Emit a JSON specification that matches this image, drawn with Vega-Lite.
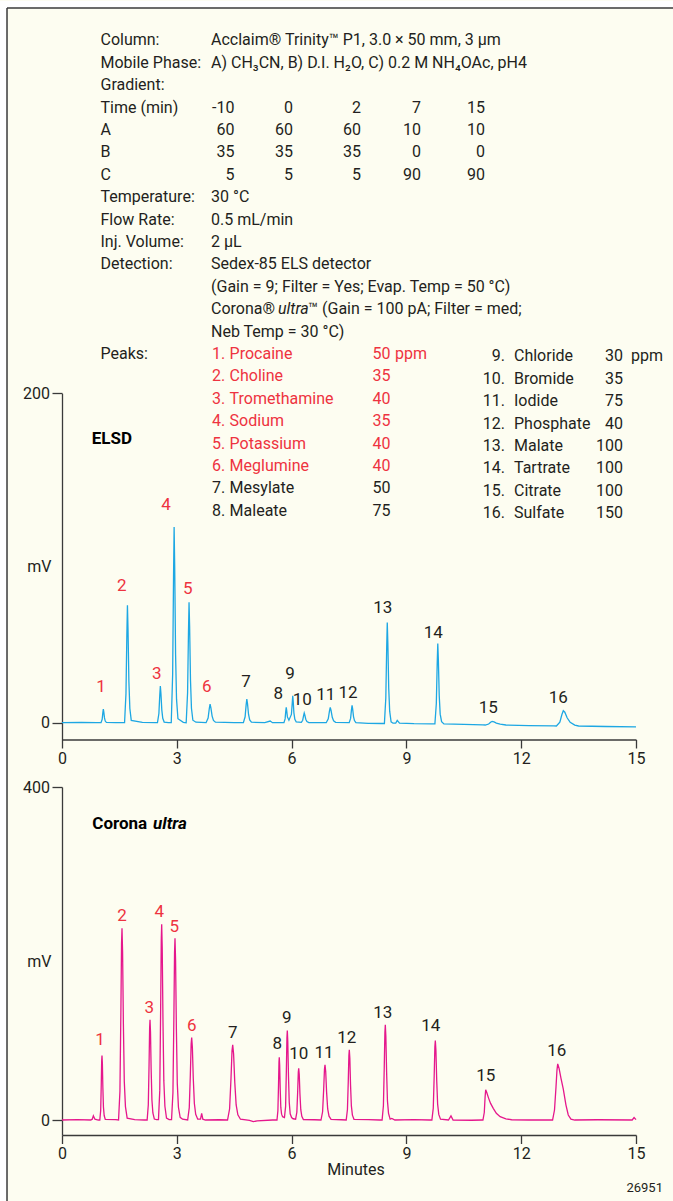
{
"$schema": "https://vega.github.io/schema/vega-lite/v6.json",
"background": "#FDFDF1",
"padding": 0,
"spacing": 47,
"bounds": "flush",
"config": {
  "view": {"stroke": null},
  "font": "Roboto",
  "axis": {"zindex": 1, "grid": false, "domainColor": "#3A3A3A", "tickColor": "#3A3A3A", "domainWidth": 1.3, "tickWidth": 1.3, "labelColor": "#231F20", "titleColor": "#231F20", "labelFontSize": 16, "titleFontSize": 16, "titleFontWeight": "normal"}
},
"datasets": {
  "conditions": [
    {"line": 1, "label": "Column:", "value": "Acclaim® Trinity™ P1, 3.0 × 50 mm, 3 µm"},
    {"line": 2, "label": "Mobile Phase:", "value": "A) CH₃CN, B) D.I. H₂O, C) 0.2 M NH₄OAc, pH4"},
    {"line": 3, "label": "Gradient:"},
    {"line": 4, "label": "Time (min)", "c1": -10, "c2": 0, "c3": 2, "c4": 7, "c5": 15},
    {"line": 5, "label": "\u00a0A", "c1": 60, "c2": 60, "c3": 60, "c4": 10, "c5": 10},
    {"line": 6, "label": "\u00a0B", "c1": 35, "c2": 35, "c3": 35, "c4": 0, "c5": 0},
    {"line": 7, "label": "\u00a0C", "c1": 5, "c2": 5, "c3": 5, "c4": 90, "c5": 90},
    {"line": 8, "label": "Temperature:", "value": "30 °C"},
    {"line": 9, "label": "Flow Rate:", "value": "0.5 mL/min"},
    {"line": 10, "label": "Inj. Volume:", "value": "2 µL"},
    {"line": 11, "label": "Detection:", "value": "Sedex-85 ELS detector"},
    {"line": 12, "value": "(Gain = 9; Filter = Yes; Evap. Temp = 50 °C)"},
    {"line": 13, "value": "Corona®", "italic": "ultra", "rest": "™ (Gain = 100 pA; Filter = med;"},
    {"line": 14, "value": "Neb Temp = 30 °C)"},
    {"line": 15, "label": "Peaks:"}
  ],
  "peaklist": [
    {"peak": 1, "no": "1.", "compound": "Procaine", "ppm": 50, "ion": "cation"},
    {"peak": 2, "no": "2.", "compound": "Choline", "ppm": 35, "ion": "cation"},
    {"peak": 3, "no": "3.", "compound": "Tromethamine", "ppm": 40, "ion": "cation"},
    {"peak": 4, "no": "4.", "compound": "Sodium", "ppm": 35, "ion": "cation"},
    {"peak": 5, "no": "5.", "compound": "Potassium", "ppm": 40, "ion": "cation"},
    {"peak": 6, "no": "6.", "compound": "Meglumine", "ppm": 40, "ion": "cation"},
    {"peak": 7, "no": "7.", "compound": "Mesylate", "ppm": 50, "ion": "anion"},
    {"peak": 8, "no": "8.", "compound": "Maleate", "ppm": 75, "ion": "anion"},
    {"peak": 9, "no": "9.", "compound": "Chloride", "ppm": 30, "ion": "anion"},
    {"peak": 10, "no": "10.", "compound": "Bromide", "ppm": 35, "ion": "anion"},
    {"peak": 11, "no": "11.", "compound": "Iodide", "ppm": 75, "ion": "anion"},
    {"peak": 12, "no": "12.", "compound": "Phosphate", "ppm": 40, "ion": "anion"},
    {"peak": 13, "no": "13.", "compound": "Malate", "ppm": 100, "ion": "anion"},
    {"peak": 14, "no": "14.", "compound": "Tartrate", "ppm": 100, "ion": "anion"},
    {"peak": 15, "no": "15.", "compound": "Citrate", "ppm": 100, "ion": "anion"},
    {"peak": 16, "no": "16.", "compound": "Sulfate", "ppm": 150, "ion": "anion"}
  ],
  "detectors": [
    {"detector": "ELSD", "label": "ELSD"},
    {"detector": "Corona ultra", "label": "Corona", "label_italic": "ultra"}
  ],
  "figure": [{"id": "26951"}],
  "peak_labels": [
    {"detector": "ELSD", "peak": 1, "ion": "cation", "t": 1.019, "mV": 21.9},
    {"detector": "ELSD", "peak": 2, "ion": "cation", "t": 1.560, "mV": 83.0},
    {"detector": "ELSD", "peak": 3, "ion": "cation", "t": 2.475, "mV": 29.8},
    {"detector": "ELSD", "peak": 4, "ion": "cation", "t": 2.718, "mV": 132.2},
    {"detector": "ELSD", "peak": 5, "ion": "cation", "t": 3.285, "mV": 81.4},
    {"detector": "ELSD", "peak": 6, "ion": "cation", "t": 3.781, "mV": 21.7},
    {"detector": "ELSD", "peak": 7, "ion": "anion", "t": 4.808, "mV": 24.7},
    {"detector": "ELSD", "peak": 8, "ion": "anion", "t": 5.652, "mV": 17.2},
    {"detector": "ELSD", "peak": 9, "ion": "anion", "t": 5.958, "mV": 29.8},
    {"detector": "ELSD", "peak": 10, "ion": "anion", "t": 6.280, "mV": 13.6},
    {"detector": "ELSD", "peak": 11, "ion": "anion", "t": 6.891, "mV": 16.8},
    {"detector": "ELSD", "peak": 12, "ion": "anion", "t": 7.474, "mV": 18.2},
    {"detector": "ELSD", "peak": 13, "ion": "anion", "t": 8.381, "mV": 69.8},
    {"detector": "ELSD", "peak": 14, "ion": "anion", "t": 9.703, "mV": 54.6},
    {"detector": "ELSD", "peak": 15, "ion": "anion", "t": 11.140, "mV": 8.7},
    {"detector": "ELSD", "peak": 16, "ion": "anion", "t": 12.970, "mV": 14.8},
    {"detector": "Corona ultra", "peak": 1, "ion": "cation", "t": 0.993, "mV": 96.3},
    {"detector": "Corona ultra", "peak": 2, "ion": "cation", "t": 1.568, "mV": 245.6},
    {"detector": "Corona ultra", "peak": 3, "ion": "cation", "t": 2.281, "mV": 134.3},
    {"detector": "Corona ultra", "peak": 4, "ion": "cation", "t": 2.543, "mV": 249.6},
    {"detector": "Corona ultra", "peak": 5, "ion": "cation", "t": 2.935, "mV": 231.6},
    {"detector": "Corona ultra", "peak": 6, "ion": "cation", "t": 3.389, "mV": 113.5},
    {"detector": "Corona ultra", "peak": 7, "ion": "anion", "t": 4.461, "mV": 104.3},
    {"detector": "Corona ultra", "peak": 8, "ion": "anion", "t": 5.626, "mV": 91.1},
    {"detector": "Corona ultra", "peak": 9, "ion": "anion", "t": 5.872, "mV": 122.3},
    {"detector": "Corona ultra", "peak": 10, "ion": "anion", "t": 6.186, "mV": 79.0},
    {"detector": "Corona ultra", "peak": 11, "ion": "anion", "t": 6.847, "mV": 80.2},
    {"detector": "Corona ultra", "peak": 12, "ion": "anion", "t": 7.440, "mV": 98.3},
    {"detector": "Corona ultra", "peak": 13, "ion": "anion", "t": 8.381, "mV": 128.3},
    {"detector": "Corona ultra", "peak": 14, "ion": "anion", "t": 9.635, "mV": 113.5},
    {"detector": "Corona ultra", "peak": 15, "ion": "anion", "t": 11.072, "mV": 52.3},
    {"detector": "Corona ultra", "peak": 16, "ion": "anion", "t": 12.927, "mV": 82.3}
  ],
  "elsd": [
    {"t":0,"mV":0},{"t":0.5,"mV":0.2},{"t":0.9,"mV":0},
    {"t":1.02,"mV":0},{"t":1.05,"mV":2.1},{"t":1.068,"mV":6.2},{"t":1.08,"mV":8.3},{"t":1.092,"mV":6.6},{"t":1.11,"mV":2.9},{"t":1.13,"mV":1.0},{"t":1.16,"mV":0.2},
    {"t":1.4,"mV":0.1},
    {"t":1.635,"mV":0},{"t":1.672,"mV":17.8},{"t":1.695,"mV":53.5},{"t":1.71,"mV":71.3},{"t":1.725,"mV":57},{"t":1.748,"mV":25},{"t":1.773,"mV":8.6},{"t":1.81,"mV":1.4},
    {"t":2.1,"mV":0.2},{"t":2.45,"mV":0},
    {"t":2.495,"mV":0},{"t":2.532,"mV":5.6},{"t":2.555,"mV":16.7},{"t":2.57,"mV":22.2},{"t":2.585,"mV":17.8},{"t":2.608,"mV":7.8},{"t":2.633,"mV":2.7},{"t":2.67,"mV":0.4},
    {"t":2.78,"mV":0},
    {"t":2.855,"mV":0},{"t":2.892,"mV":29.7},{"t":2.915,"mV":89},{"t":2.93,"mV":118.8},{"t":2.945,"mV":95},{"t":2.968,"mV":41.6},{"t":2.993,"mV":14.3},{"t":3.03,"mV":2.4},
    {"t":3.17,"mV":0.2},
    {"t":3.245,"mV":0},{"t":3.282,"mV":18.3},{"t":3.305,"mV":54.8},{"t":3.32,"mV":73.1},{"t":3.335,"mV":58.5},{"t":3.358,"mV":25.6},{"t":3.383,"mV":8.8},{"t":3.42,"mV":1.5},{"t":3.5,"mV":0.3},
    {"t":3.765,"mV":0},{"t":3.818,"mV":2.8},{"t":3.849,"mV":8.5},{"t":3.87,"mV":11.3},{"t":3.891,"mV":9},{"t":3.923,"mV":4},{"t":3.958,"mV":1.4},{"t":4.01,"mV":0.3},
    {"t":4.5,"mV":0},
    {"t":4.74,"mV":0},{"t":4.785,"mV":3.6},{"t":4.812,"mV":10.8},{"t":4.83,"mV":14.4},{"t":4.848,"mV":11.5},{"t":4.875,"mV":5},{"t":4.905,"mV":1.7},{"t":4.95,"mV":0.3},
    {"t":5.3,"mV":0},{"t":5.44,"mV":1.0},{"t":5.5,"mV":0},
    {"t":5.8,"mV":0},{"t":5.83,"mV":2.3},{"t":5.848,"mV":7},{"t":5.86,"mV":9.3},{"t":5.872,"mV":7.4},{"t":5.89,"mV":3.5},{"t":5.93,"mV":1.5},
    {"t":5.995,"mV":5},{"t":6.018,"mV":12.3},{"t":6.03,"mV":16.4},{"t":6.042,"mV":13},{"t":6.06,"mV":6},{"t":6.085,"mV":2},{"t":6.12,"mV":0.5},
    {"t":6.255,"mV":0.2},{"t":6.29,"mV":1.5},{"t":6.315,"mV":4.4},{"t":6.33,"mV":5.9},{"t":6.345,"mV":4.7},{"t":6.37,"mV":2.1},{"t":6.4,"mV":0.7},{"t":6.45,"mV":0.1},
    {"t":6.8,"mV":0},
    {"t":6.905,"mV":0},{"t":6.958,"mV":2.3},{"t":6.989,"mV":7},{"t":7.01,"mV":9.3},{"t":7.031,"mV":7.4},{"t":7.063,"mV":3.3},{"t":7.098,"mV":1.1},{"t":7.15,"mV":0.2},
    {"t":7.505,"mV":0},{"t":7.542,"mV":2.6},{"t":7.565,"mV":7.9},{"t":7.58,"mV":10.5},{"t":7.595,"mV":8.4},{"t":7.618,"mV":3.7},{"t":7.643,"mV":1.3},{"t":7.68,"mV":0},
    {"t":8.0,"mV":-0.4},{"t":8.35,"mV":-0.5},
    {"t":8.425,"mV":-0.5},{"t":8.462,"mV":15},{"t":8.485,"mV":45.5},{"t":8.5,"mV":60.8},{"t":8.515,"mV":48.6},{"t":8.538,"mV":21},{"t":8.563,"mV":7},{"t":8.6,"mV":0.5},{"t":8.65,"mV":-0.3},
    {"t":8.72,"mV":-0.3},{"t":8.76,"mV":1.4},{"t":8.82,"mV":-0.3},
    {"t":9.2,"mV":-0.6},{"t":9.65,"mV":-0.7},
    {"t":9.745,"mV":-0.7},{"t":9.782,"mV":11.6},{"t":9.805,"mV":35.9},{"t":9.82,"mV":48.1},{"t":9.835,"mV":38.4},{"t":9.858,"mV":16.4},{"t":9.883,"mV":5.2},{"t":9.92,"mV":0.6},{"t":9.98,"mV":-0.7},
    {"t":10.5,"mV":-1.0},{"t":11.0,"mV":-1.3},
    {"t":11.06,"mV":-1.4},{"t":11.15,"mV":-0.8},{"t":11.2,"mV":0.3},{"t":11.24,"mV":0.8},{"t":11.29,"mV":0.5},{"t":11.35,"mV":-0.2},{"t":11.45,"mV":-0.9},{"t":11.6,"mV":-1.4},
    {"t":12.2,"mV":-1.8},{"t":12.85,"mV":-1.9},
    {"t":12.92,"mV":-2.0},{"t":13.01,"mV":0.3},{"t":13.064,"mV":5.0},{"t":13.1,"mV":7.3},{"t":13.14,"mV":6.4},{"t":13.2,"mV":3.0},{"t":13.28,"mV":0.2},{"t":13.4,"mV":-1.5},{"t":13.5,"mV":-2},
    {"t":14.2,"mV":-2.3},{"t":15,"mV":-2.5}
  ],
  "corona": [
    {"t":0,"mV":0},{"t":0.4,"mV":0.5},{"t":0.75,"mV":0},{"t":0.79,"mV":1},{"t":0.82,"mV":5},{"t":0.86,"mV":1},{"t":0.95,"mV":0},
    {"t":0.988,"mV":0},{"t":1.011,"mV":11.6},{"t":1.026,"mV":42.6},{"t":1.037,"mV":71.3},{"t":1.045,"mV":77.5},{"t":1.055,"mV":68.2},{"t":1.068,"mV":38.8},{"t":1.083,"mV":15.5},{"t":1.102,"mV":5.4},{"t":1.131,"mV":0.8},
    {"t":1.4,"mV":0.5},
    {"t":1.478,"mV":0},{"t":1.514,"mV":34.6},{"t":1.538,"mV":126.7},{"t":1.556,"mV":212},{"t":1.568,"mV":230.4},{"t":1.583,"mV":202.8},{"t":1.604,"mV":115.2},{"t":1.628,"mV":46.1},{"t":1.658,"mV":16.1},{"t":1.703,"mV":2.3},
    {"t":1.9,"mV":0.5},{"t":2.15,"mV":0},
    {"t":2.225,"mV":0},{"t":2.255,"mV":18.1},{"t":2.275,"mV":66.2},{"t":2.29,"mV":110.8},{"t":2.3,"mV":120.4},{"t":2.3125,"mV":106},{"t":2.33,"mV":60.2},{"t":2.35,"mV":24.1},{"t":2.375,"mV":8.4},{"t":2.4125,"mV":1.2},
    {"t":2.47,"mV":0.5},
    {"t":2.521,"mV":0.5},{"t":2.555,"mV":35.3},{"t":2.577,"mV":129.4},{"t":2.594,"mV":216.4},{"t":2.605,"mV":235.2},{"t":2.619,"mV":207},{"t":2.639,"mV":117.6},{"t":2.661,"mV":47},{"t":2.689,"mV":16.5},{"t":2.731,"mV":2.4},
    {"t":2.8,"mV":0.5},
    {"t":2.863,"mV":0.5},{"t":2.899,"mV":32.8},{"t":2.923,"mV":120.1},{"t":2.941,"mV":201},{"t":2.953,"mV":218.4},{"t":2.968,"mV":192.2},{"t":2.989,"mV":109.2},{"t":3.013,"mV":43.7},{"t":3.043,"mV":15.3},{"t":3.088,"mV":3.2},{"t":3.15,"mV":1},
    {"t":3.284,"mV":0},{"t":3.326,"mV":14.9},{"t":3.354,"mV":54.5},{"t":3.375,"mV":91.2},{"t":3.389,"mV":99.1},{"t":3.407,"mV":87.2},{"t":3.431,"mV":49.6},{"t":3.459,"mV":19.8},{"t":3.494,"mV":6.9},{"t":3.547,"mV":1},
    {"t":3.62,"mV":1},{"t":3.65,"mV":8},{"t":3.68,"mV":1},{"t":3.75,"mV":0},
    {"t":4.1,"mV":0.3},
    {"t":4.326,"mV":0},{"t":4.38,"mV":13.5},{"t":4.416,"mV":49.7},{"t":4.443,"mV":83.1},{"t":4.461,"mV":90.3},{"t":4.484,"mV":79.5},{"t":4.515,"mV":45.2},{"t":4.551,"mV":18.1},{"t":4.596,"mV":6.3},{"t":4.664,"mV":0.9},
    {"t":4.9,"mV":-0.5},{"t":5.0,"mV":-2},{"t":5.1,"mV":-1},{"t":5.5,"mV":0},
    {"t":5.618,"mV":0},{"t":5.642,"mV":11.3},{"t":5.658,"mV":41.5},{"t":5.67,"mV":69.4},{"t":5.678,"mV":75.4},{"t":5.688,"mV":66.4},{"t":5.702,"mV":37.7},{"t":5.718,"mV":15.1},{"t":5.738,"mV":7},{"t":5.765,"mV":4},
    {"t":5.813,"mV":3},{"t":5.843,"mV":16.1},{"t":5.863,"mV":59.1},{"t":5.878,"mV":98.9},{"t":5.888,"mV":107.5},{"t":5.9,"mV":94.6},{"t":5.918,"mV":53.8},{"t":5.938,"mV":21.5},{"t":5.963,"mV":7.5},{"t":6.0,"mV":3},{"t":6.04,"mV":1.5},
    {"t":6.105,"mV":1},{"t":6.137,"mV":9.3},{"t":6.159,"mV":34.2},{"t":6.175,"mV":57.2},{"t":6.186,"mV":62.2},{"t":6.2,"mV":54.7},{"t":6.218,"mV":31.1},{"t":6.24,"mV":12.4},{"t":6.267,"mV":4.4},{"t":6.308,"mV":0.6},
    {"t":6.6,"mV":0.3},
    {"t":6.768,"mV":0},{"t":6.81,"mV":9.9},{"t":6.838,"mV":36.5},{"t":6.859,"mV":61},{"t":6.873,"mV":66.3},{"t":6.891,"mV":58.3},{"t":6.915,"mV":33.2},{"t":6.943,"mV":13.3},{"t":6.978,"mV":4.6},{"t":7.031,"mV":0.7},
    {"t":7.3,"mV":0.3},
    {"t":7.427,"mV":0},{"t":7.459,"mV":12.6},{"t":7.481,"mV":46.4},{"t":7.497,"mV":77.6},{"t":7.508,"mV":84.3},{"t":7.522,"mV":74.2},{"t":7.54,"mV":42.2},{"t":7.562,"mV":16.9},{"t":7.589,"mV":5.9},{"t":7.63,"mV":0.8},
    {"t":8.0,"mV":0.5},{"t":8.3,"mV":0},
    {"t":8.365,"mV":0},{"t":8.399,"mV":17.2},{"t":8.421,"mV":62.9},{"t":8.438,"mV":105.2},{"t":8.449,"mV":114.4},{"t":8.463,"mV":100.7},{"t":8.483,"mV":57.2},{"t":8.505,"mV":22.9},{"t":8.533,"mV":8},{"t":8.575,"mV":1.1},{"t":8.62,"mV":2},{"t":8.7,"mV":0},
    {"t":9.2,"mV":0.5},{"t":9.6,"mV":0},
    {"t":9.666,"mV":0},{"t":9.702,"mV":14.3},{"t":9.726,"mV":52.5},{"t":9.744,"mV":87.9},{"t":9.756,"mV":95.5},{"t":9.771,"mV":84},{"t":9.792,"mV":47.8},{"t":9.816,"mV":19.1},{"t":9.846,"mV":6.7},{"t":9.891,"mV":1},
    {"t":10.1,"mV":0},{"t":10.165,"mV":5},{"t":10.22,"mV":0},
    {"t":10.7,"mV":-0.3},{"t":10.98,"mV":0},
    {"t":11.0,"mV":0},{"t":11.035,"mV":9},{"t":11.057,"mV":28},{"t":11.072,"mV":36.3},{"t":11.1,"mV":33},{"t":11.15,"mV":26},{"t":11.2,"mV":20},{"t":11.27,"mV":14},{"t":11.35,"mV":8},{"t":11.45,"mV":4},{"t":11.6,"mV":1.5},{"t":11.75,"mV":0.3},
    {"t":12.2,"mV":0},{"t":12.8,"mV":0},
    {"t":12.82,"mV":0},{"t":12.87,"mV":12},{"t":12.91,"mV":40},{"t":12.935,"mV":60},{"t":12.954,"mV":67.5},{"t":12.99,"mV":62},{"t":13.04,"mV":50},{"t":13.1,"mV":37},{"t":13.17,"mV":18},{"t":13.23,"mV":6},{"t":13.3,"mV":1},{"t":13.4,"mV":0},
    {"t":14.0,"mV":0.3},{"t":14.9,"mV":0},{"t":14.95,"mV":3},{"t":15,"mV":0.5}
  ]
},
"vconcat": [
  {
    "width": 574,
    "height": 731.5,
    "resolve": {"scale": {"x": "independent", "y": "independent"}, "axis": {"x": "independent", "y": "independent"}},
    "layer": [
      {
        "layer": [
          {
            "data": {"name": "elsd"},
            "mark": {"type": "line", "color": "#1DA7E3", "strokeWidth": 1.3},
            "encoding": {
              "x": {"field": "t", "type": "quantitative", "scale": {"domain": [0, 15], "nice": false, "zero": false}, "axis": {"orient": "bottom", "values": [0, 3, 6, 9, 12, 15], "title": null, "tickSize": 8.5, "labelPadding": 2, "labelFlush": false}},
              "y": {"field": "mV", "type": "quantitative", "scale": {"domain": [-10.2, 200], "range": [731.5, 385.3], "nice": false, "zero": false}, "axis": {"orient": "left", "values": [0, 200], "title": "mV", "titleAngle": 0, "titleAlign": "right", "titleBaseline": "middle", "titleX": -11, "tickSize": 10, "labelPadding": 2.5}}
            }
          },
          {
            "data": {"name": "peak_labels"},
            "transform": [{"filter": "datum.detector == 'ELSD'"}],
            "mark": {"type": "text", "align": "center", "baseline": "middle", "fontSize": 17},
            "encoding": {
              "x": {"field": "t", "type": "quantitative", "scale": {"domain": [0, 15], "nice": false, "zero": false}},
              "y": {"field": "mV", "type": "quantitative", "scale": {"domain": [-10.2, 200], "range": [731.5, 385.3], "nice": false, "zero": false}},
              "text": {"field": "peak", "type": "nominal"},
              "color": {"field": "ion", "type": "nominal", "scale": {"domain": ["cation", "anion"], "range": ["#EE3340", "#231F20"]}, "legend": null}
            }
          },
          {
            "data": {"name": "detectors"},
            "transform": [{"filter": "datum.detector == 'ELSD'"}],
            "mark": {"type": "text", "align": "left", "baseline": "middle", "fontSize": 17, "fontWeight": "bold", "color": "#000000"},
            "encoding": {
              "x": {"datum": 0.776, "type": "quantitative", "scale": {"domain": [0, 15], "nice": false, "zero": false}},
              "y": {"datum": 172.1, "type": "quantitative", "scale": {"domain": [-10.2, 200], "range": [731.5, 385.3], "nice": false, "zero": false}},
              "text": {"field": "label", "type": "nominal"}
            }
          }
        ]
      },
      {
        "data": {"name": "conditions"},
        "layer": [
          {
            "data": {"values": [{"strip": "left"}]},
            "mark": {"type": "rect", "color": "#FFFFFF"},
            "encoding": {
              "x": {"datum": -1.62, "type": "quantitative", "scale": {"domain": [0, 15], "nice": false, "zero": false}, "axis": null},
              "x2": {"datum": -1.437},
              "y": {"datum": -0.7545, "type": "quantitative", "scale": {"domain": [1, 15], "range": [32.3, 345.9], "nice": false, "zero": false}, "axis": null},
              "y2": {"datum": 52.85}
            }
          },
          {
            "data": {"values": [{"strip": "top"}]},
            "mark": {"type": "rect", "color": "#FFFFFF"},
            "encoding": {
              "x": {"datum": -1.62, "type": "quantitative", "scale": {"domain": [0, 15], "nice": false, "zero": false}, "axis": null},
              "x2": {"datum": 15.967},
              "y": {"datum": -0.7545, "type": "quantitative", "scale": {"domain": [1, 15], "range": [32.3, 345.9], "nice": false, "zero": false}, "axis": null},
              "y2": {"datum": -0.442}
            }
          },
          {
            "data": {"values": [{"frame": "top"}]},
            "mark": {"type": "rule", "color": "#3A3A3A", "strokeWidth": 1.5},
            "encoding": {
              "x": {"datum": -1.437, "type": "quantitative", "scale": {"domain": [0, 15], "nice": false, "zero": false}, "axis": null},
              "x2": {"datum": 15.967},
              "y": {"datum": -0.442, "type": "quantitative", "scale": {"domain": [1, 15], "range": [32.3, 345.9], "nice": false, "zero": false}, "axis": null}
            }
          },
          {
            "data": {"values": [{"frame": "left"}]},
            "mark": {"type": "rule", "color": "#3A3A3A", "strokeWidth": 1.5},
            "encoding": {
              "x": {"datum": -1.437, "type": "quantitative", "scale": {"domain": [0, 15], "nice": false, "zero": false}, "axis": null},
              "y": {"datum": -0.442, "type": "quantitative", "scale": {"domain": [1, 15], "range": [32.3, 345.9], "nice": false, "zero": false}, "axis": null},
              "y2": {"datum": 52.85}
            }
          },
          {
            "transform": [{"filter": "isValid(datum.label)"}],
            "mark": {"type": "text", "align": "left", "baseline": "middle", "fontSize": 16, "color": "#231F20"},
            "encoding": {
              "x": {"datum": 1.006, "type": "quantitative", "scale": {"domain": [0, 15], "nice": false, "zero": false}, "axis": null},
              "y": {"field": "line", "type": "quantitative", "scale": {"domain": [1, 15], "range": [32.3, 345.9], "nice": false, "zero": false}, "axis": null},
              "text": {"field": "label", "type": "nominal"}
            }
          },
          {
            "transform": [{"filter": "isValid(datum.value)"}],
            "mark": {"type": "text", "align": "left", "baseline": "middle", "fontSize": 16, "color": "#231F20"},
            "encoding": {
              "x": {"datum": 3.894, "type": "quantitative", "scale": {"domain": [0, 15], "nice": false, "zero": false}, "axis": null},
              "y": {"field": "line", "type": "quantitative", "scale": {"domain": [1, 15], "range": [32.3, 345.9], "nice": false, "zero": false}, "axis": null},
              "text": {"field": "value", "type": "nominal"}
            }
          },
          {
            "transform": [{"filter": "isValid(datum.italic)"}],
            "mark": {"type": "text", "align": "left", "baseline": "middle", "fontSize": 16, "fontStyle": "italic", "color": "#231F20"},
            "encoding": {
              "x": {"datum": 5.644, "type": "quantitative", "scale": {"domain": [0, 15], "nice": false, "zero": false}, "axis": null},
              "y": {"field": "line", "type": "quantitative", "scale": {"domain": [1, 15], "range": [32.3, 345.9], "nice": false, "zero": false}, "axis": null},
              "text": {"field": "italic", "type": "nominal"}
            }
          },
          {
            "transform": [{"filter": "isValid(datum.rest)"}],
            "mark": {"type": "text", "align": "left", "baseline": "middle", "fontSize": 16, "color": "#231F20"},
            "encoding": {
              "x": {"datum": 6.43, "type": "quantitative", "scale": {"domain": [0, 15], "nice": false, "zero": false}, "axis": null},
              "y": {"field": "line", "type": "quantitative", "scale": {"domain": [1, 15], "range": [32.3, 345.9], "nice": false, "zero": false}, "axis": null},
              "text": {"field": "rest", "type": "nominal"}
            }
          },
          {
            "transform": [{"filter": "isValid(datum.c1)"}],
            "mark": {"type": "text", "align": "right", "baseline": "middle", "fontSize": 16, "color": "#231F20"},
            "encoding": {
              "x": {"datum": 4.508, "type": "quantitative", "scale": {"domain": [0, 15], "nice": false, "zero": false}, "axis": null},
              "y": {"field": "line", "type": "quantitative", "scale": {"domain": [1, 15], "range": [32.3, 345.9], "nice": false, "zero": false}, "axis": null},
              "text": {"field": "c1", "type": "nominal"}
            }
          },
          {
            "transform": [{"filter": "isValid(datum.c2)"}],
            "mark": {"type": "text", "align": "right", "baseline": "middle", "fontSize": 16, "color": "#231F20"},
            "encoding": {
              "x": {"datum": 6.037, "type": "quantitative", "scale": {"domain": [0, 15], "nice": false, "zero": false}, "axis": null},
              "y": {"field": "line", "type": "quantitative", "scale": {"domain": [1, 15], "range": [32.3, 345.9], "nice": false, "zero": false}, "axis": null},
              "text": {"field": "c2", "type": "nominal"}
            }
          },
          {
            "transform": [{"filter": "isValid(datum.c3)"}],
            "mark": {"type": "text", "align": "right", "baseline": "middle", "fontSize": 16, "color": "#231F20"},
            "encoding": {
              "x": {"datum": 7.813, "type": "quantitative", "scale": {"domain": [0, 15], "nice": false, "zero": false}, "axis": null},
              "y": {"field": "line", "type": "quantitative", "scale": {"domain": [1, 15], "range": [32.3, 345.9], "nice": false, "zero": false}, "axis": null},
              "text": {"field": "c3", "type": "nominal"}
            }
          },
          {
            "transform": [{"filter": "isValid(datum.c4)"}],
            "mark": {"type": "text", "align": "right", "baseline": "middle", "fontSize": 16, "color": "#231F20"},
            "encoding": {
              "x": {"datum": 9.381, "type": "quantitative", "scale": {"domain": [0, 15], "nice": false, "zero": false}, "axis": null},
              "y": {"field": "line", "type": "quantitative", "scale": {"domain": [1, 15], "range": [32.3, 345.9], "nice": false, "zero": false}, "axis": null},
              "text": {"field": "c4", "type": "nominal"}
            }
          },
          {
            "transform": [{"filter": "isValid(datum.c5)"}],
            "mark": {"type": "text", "align": "right", "baseline": "middle", "fontSize": 16, "color": "#231F20"},
            "encoding": {
              "x": {"datum": 11.054, "type": "quantitative", "scale": {"domain": [0, 15], "nice": false, "zero": false}, "axis": null},
              "y": {"field": "line", "type": "quantitative", "scale": {"domain": [1, 15], "range": [32.3, 345.9], "nice": false, "zero": false}, "axis": null},
              "text": {"field": "c5", "type": "nominal"}
            }
          }
        ]
      },
      {
        "data": {"name": "peaklist"},
        "transform": [{"filter": "datum.peak <= 8"}],
        "layer": [
          {
            "mark": {"type": "text", "align": "left", "baseline": "middle", "fontSize": 16},
            "encoding": {
              "x": {"datum": 3.92, "type": "quantitative", "scale": {"domain": [0, 15], "nice": false, "zero": false}, "axis": null},
              "y": {"field": "peak", "type": "quantitative", "scale": {"domain": [1, 8], "range": [345.9, 502.7], "nice": false, "zero": false}, "axis": null},
              "text": {"field": "no", "type": "nominal"},
              "color": {"field": "ion", "type": "nominal", "scale": {"domain": ["cation", "anion"], "range": ["#EE3340", "#231F20"]}, "legend": null}
            }
          },
          {
            "mark": {"type": "text", "align": "left", "baseline": "middle", "fontSize": 16},
            "encoding": {
              "x": {"datum": 4.38, "type": "quantitative", "scale": {"domain": [0, 15], "nice": false, "zero": false}, "axis": null},
              "y": {"field": "peak", "type": "quantitative", "scale": {"domain": [1, 8], "range": [345.9, 502.7], "nice": false, "zero": false}, "axis": null},
              "text": {"field": "compound", "type": "nominal"},
              "color": {"field": "ion", "type": "nominal", "scale": {"domain": ["cation", "anion"], "range": ["#EE3340", "#231F20"]}, "legend": null}
            }
          },
          {
            "mark": {"type": "text", "align": "left", "baseline": "middle", "fontSize": 16},
            "encoding": {
              "x": {"datum": 8.114, "type": "quantitative", "scale": {"domain": [0, 15], "nice": false, "zero": false}, "axis": null},
              "y": {"field": "peak", "type": "quantitative", "scale": {"domain": [1, 8], "range": [345.9, 502.7], "nice": false, "zero": false}, "axis": null},
              "text": {"field": "ppm", "type": "quantitative"},
              "color": {"field": "ion", "type": "nominal", "scale": {"domain": ["cation", "anion"], "range": ["#EE3340", "#231F20"]}, "legend": null}
            }
          },
          {
            "transform": [{"filter": "datum.peak == 1"}],
            "mark": {"type": "text", "align": "left", "baseline": "middle", "fontSize": 16},
            "encoding": {
              "x": {"datum": 8.702, "type": "quantitative", "scale": {"domain": [0, 15], "nice": false, "zero": false}, "axis": null},
              "y": {"field": "peak", "type": "quantitative", "scale": {"domain": [1, 8], "range": [345.9, 502.7], "nice": false, "zero": false}, "axis": null},
              "text": {"value": "ppm"},
              "color": {"field": "ion", "type": "nominal", "scale": {"domain": ["cation", "anion"], "range": ["#EE3340", "#231F20"]}, "legend": null}
            }
          }
        ]
      },
      {
        "data": {"name": "peaklist"},
        "transform": [{"filter": "datum.peak >= 9"}],
        "layer": [
          {
            "mark": {"type": "text", "align": "right", "baseline": "middle", "fontSize": 16},
            "encoding": {
              "x": {"datum": 11.577, "type": "quantitative", "scale": {"domain": [0, 15], "nice": false, "zero": false}, "axis": null},
              "y": {"field": "peak", "type": "quantitative", "scale": {"domain": [9, 16], "range": [348.3, 505.1], "nice": false, "zero": false}, "axis": null},
              "text": {"field": "no", "type": "nominal"},
              "color": {"field": "ion", "type": "nominal", "scale": {"domain": ["cation", "anion"], "range": ["#EE3340", "#231F20"]}, "legend": null}
            }
          },
          {
            "mark": {"type": "text", "align": "left", "baseline": "middle", "fontSize": 16},
            "encoding": {
              "x": {"datum": 11.812, "type": "quantitative", "scale": {"domain": [0, 15], "nice": false, "zero": false}, "axis": null},
              "y": {"field": "peak", "type": "quantitative", "scale": {"domain": [9, 16], "range": [348.3, 505.1], "nice": false, "zero": false}, "axis": null},
              "text": {"field": "compound", "type": "nominal"},
              "color": {"field": "ion", "type": "nominal", "scale": {"domain": ["cation", "anion"], "range": ["#EE3340", "#231F20"]}, "legend": null}
            }
          },
          {
            "mark": {"type": "text", "align": "right", "baseline": "middle", "fontSize": 16},
            "encoding": {
              "x": {"datum": 14.66, "type": "quantitative", "scale": {"domain": [0, 15], "nice": false, "zero": false}, "axis": null},
              "y": {"field": "peak", "type": "quantitative", "scale": {"domain": [9, 16], "range": [348.3, 505.1], "nice": false, "zero": false}, "axis": null},
              "text": {"field": "ppm", "type": "quantitative"},
              "color": {"field": "ion", "type": "nominal", "scale": {"domain": ["cation", "anion"], "range": ["#EE3340", "#231F20"]}, "legend": null}
            }
          },
          {
            "transform": [{"filter": "datum.peak == 9"}],
            "mark": {"type": "text", "align": "left", "baseline": "middle", "fontSize": 16},
            "encoding": {
              "x": {"datum": 14.869, "type": "quantitative", "scale": {"domain": [0, 15], "nice": false, "zero": false}, "axis": null},
              "y": {"field": "peak", "type": "quantitative", "scale": {"domain": [9, 16], "range": [348.3, 505.1], "nice": false, "zero": false}, "axis": null},
              "text": {"value": "ppm"},
              "color": {"field": "ion", "type": "nominal", "scale": {"domain": ["cation", "anion"], "range": ["#EE3340", "#231F20"]}, "legend": null}
            }
          }
        ]
      }
    ]
  },
  {
    "width": 574,
    "height": 348,
    "layer": [
      {
        "data": {"name": "corona"},
        "mark": {"type": "line", "color": "#E5178C", "strokeWidth": 1.3},
        "encoding": {
          "x": {"field": "t", "type": "quantitative", "scale": {"domain": [0, 15], "nice": false, "zero": false}, "axis": {"orient": "bottom", "values": [0, 3, 6, 9, 12, 15], "title": "Minutes", "titleX": 293.5, "titlePadding": 0, "tickSize": 8.5, "labelPadding": 2, "labelFlush": false}},
          "y": {"field": "mV", "type": "quantitative", "scale": {"domain": [-18, 400], "nice": false, "zero": false}, "axis": {"orient": "left", "values": [0, 400], "title": "mV", "titleAngle": 0, "titleAlign": "right", "titleBaseline": "middle", "titleX": -11, "tickSize": 10, "labelPadding": 2.5}}
        }
      },
      {
        "data": {"name": "peak_labels"},
        "transform": [{"filter": "datum.detector == 'Corona ultra'"}],
        "mark": {"type": "text", "align": "center", "baseline": "middle", "fontSize": 17},
        "encoding": {
          "x": {"field": "t", "type": "quantitative"},
          "y": {"field": "mV", "type": "quantitative"},
          "text": {"field": "peak", "type": "nominal"},
          "color": {"field": "ion", "type": "nominal", "scale": {"domain": ["cation", "anion"], "range": ["#EE3340", "#231F20"]}, "legend": null}
        }
      },
      {
        "data": {"name": "detectors"},
        "transform": [{"filter": "datum.detector == 'Corona ultra'"}],
        "mark": {"type": "text", "align": "left", "baseline": "middle", "fontSize": 17, "fontWeight": "bold", "color": "#000000"},
        "encoding": {
          "x": {"datum": 0.792, "type": "quantitative"},
          "y": {"datum": 355, "type": "quantitative"},
          "text": {"field": "label", "type": "nominal"}
        }
      },
      {
        "data": {"name": "detectors"},
        "transform": [{"filter": "datum.detector == 'Corona ultra'"}],
        "mark": {"type": "text", "align": "left", "baseline": "middle", "fontSize": 17, "fontWeight": "bold", "fontStyle": "italic", "color": "#000000"},
        "encoding": {
          "x": {"datum": 2.38, "type": "quantitative"},
          "y": {"datum": 355, "type": "quantitative"},
          "text": {"field": "label_italic", "type": "nominal"}
        }
      },
      {
        "data": {"name": "figure"},
        "mark": {"type": "text", "align": "right", "baseline": "middle", "fontSize": 13, "color": "#231F20"},
        "encoding": {
          "x": {"datum": 15.705, "type": "quantitative"},
          "y": {"datum": -81.1, "type": "quantitative"},
          "text": {"field": "id", "type": "nominal"}
        }
      }
    ]
  }
]
}
